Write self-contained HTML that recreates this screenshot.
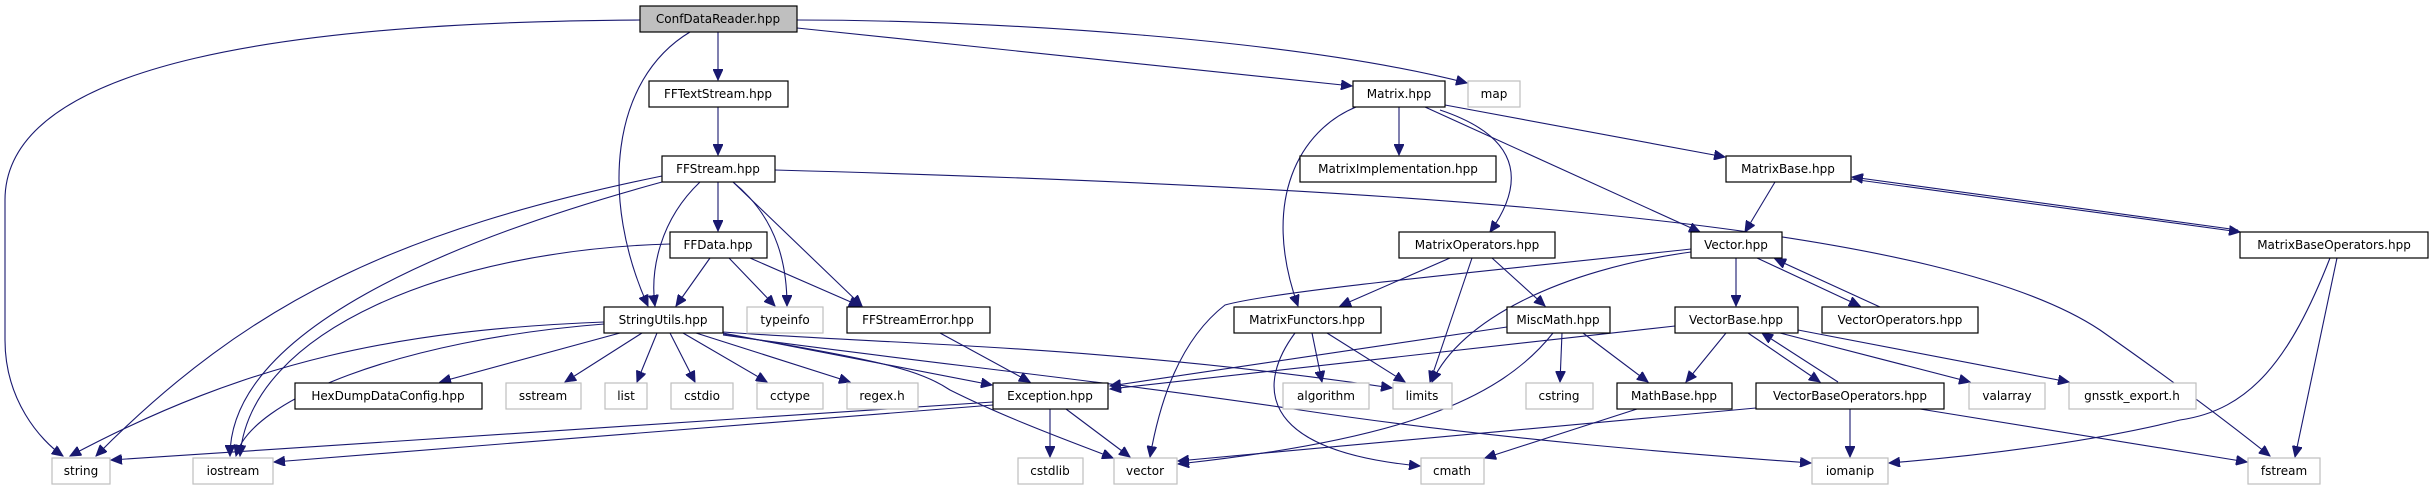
<!DOCTYPE html>
<html><head><meta charset="utf-8"><style>
html,body{margin:0;padding:0;background:#fff;}
svg{display:block;}
text{font-family:"DejaVu Sans","Liberation Sans",sans-serif;font-size:12px;fill:#000;text-anchor:middle;}
.n{fill:#fff;stroke:#000;stroke-width:1.2;}
.g{fill:#fff;stroke:#bfbfbf;stroke-width:1.2;}
.e{fill:none;stroke:#191970;stroke-width:1.1;}
</style></head><body>
<svg width="2433" height="485" viewBox="0 0 2433 485" xmlns="http://www.w3.org/2000/svg">
<defs>
<marker id="a" markerUnits="userSpaceOnUse" markerWidth="12" markerHeight="10" refX="11" refY="5" orient="auto">
<path d="M0,0 L11,5 L0,10 z" fill="#191970" stroke="#191970"/>
</marker>
</defs>
<g marker-end="url(#a)">
<!-- ConfDataReader -->
<path class="e" d="M640,20 C300,22 5,60 5,200 L5,340 C5,400 40,440 63,456"/>
<path class="e" d="M690,32 C610,80 600,200 648,306"/>
<path class="e" d="M718,32 L718,80"/>
<path class="e" d="M797,28 L1352,86"/>
<path class="e" d="M797,20 C1000,20 1300,40 1467,83"/>
<!-- FFTextStream -->
<path class="e" d="M718,107 L718,155"/>
<!-- FFStream -->
<path class="e" d="M662,176 C400,230 250,300 96,456"/>
<path class="e" d="M662,182 C450,240 230,330 230,456"/>
<path class="e" d="M700,182 C660,220 650,270 655,306"/>
<path class="e" d="M718,182 L718,231"/>
<path class="e" d="M733,182 C780,220 787,270 787,306"/>
<path class="e" d="M733,182 L862,306"/>
<path class="e" d="M775,170 C1500,190 1950,230 2100,330 C2200,400 2250,440 2270,456"/>
<!-- FFData -->
<path class="e" d="M670,244 C450,250 250,330 240,456"/>
<path class="e" d="M710,258 L676,306"/>
<path class="e" d="M729,258 L775,306"/>
<path class="e" d="M750,258 L860,306"/>
<!-- StringUtils -->
<path class="e" d="M604,322 C400,330 250,360 70,456"/>
<path class="e" d="M604,324 C400,340 250,400 236,456"/>
<path class="e" d="M620,333 L440,382"/>
<path class="e" d="M642,333 L565,382"/>
<path class="e" d="M657,333 L637,382"/>
<path class="e" d="M670,333 L695,382"/>
<path class="e" d="M683,333 L767,382"/>
<path class="e" d="M696,333 L850,382"/>
<path class="e" d="M723,333 L992,385"/>
<path class="e" d="M723,332 C900,345 1100,345 1392,388"/>
<path class="e" d="M723,334 C880,360 920,370 950,390 C1010,420 1080,445 1113,458"/>
<path class="e" d="M723,335 C900,360 1100,380 1300,410 C1500,440 1700,455 1811,463"/>
<!-- Exception -->
<path class="e" d="M993,402 L111,460"/>
<path class="e" d="M993,405 L274,462"/>
<path class="e" d="M1050,409 L1050,457"/>
<path class="e" d="M1066,409 L1130,457"/>
<!-- FFStreamError -->
<path class="e" d="M940,333 L1030,382"/>
<!-- Matrix -->
<path class="e" d="M1356,107 C1300,130 1260,200 1298,306"/>
<path class="e" d="M1399,107 L1399,155"/>
<path class="e" d="M1440,110 C1530,140 1520,190 1490,232"/>
<path class="e" d="M1425,107 L1700,232"/>
<path class="e" d="M1445,105 L1725,157"/>
<!-- MatrixBase -->
<path class="e" d="M1775,182 L1745,232"/>
<path class="e" d="M1851,179 L2240,232"/>
<path class="e" d="M2238,230 L1852,177"/>
<!-- MatrixOperators -->
<path class="e" d="M1450,258 L1340,306"/>
<path class="e" d="M1472,258 L1430,382"/>
<path class="e" d="M1492,258 L1545,306"/>
<!-- Vector -->
<path class="e" d="M1691,249 C1500,270 1280,290 1225,305 C1180,340 1160,400 1150,457"/>
<path class="e" d="M1691,252 C1560,270 1460,320 1432,382"/>
<path class="e" d="M1736,258 L1736,306"/>
<path class="e" d="M1757,258 L1860,306"/>
<path class="e" d="M1880,307 L1775,259"/>
<!-- Exception in from MiscMath & VectorBase -->
<path class="e" d="M1507,327 L1110,386"/>
<path class="e" d="M1675,326 L1110,389"/>
<!-- MatrixFunctors -->
<path class="e" d="M1312,333 L1322,382"/>
<path class="e" d="M1327,333 L1405,382"/>
<path class="e" d="M1295,333 C1260,380 1250,450 1420,466"/>
<!-- MiscMath -->
<path class="e" d="M1562,333 L1560,382"/>
<path class="e" d="M1583,333 L1648,382"/>
<path class="e" d="M1553,333 C1500,400 1400,440 1178,464"/>
<!-- MathBase -->
<path class="e" d="M1637,409 L1485,458"/>
<!-- VectorBase -->
<path class="e" d="M1726,333 L1686,382"/>
<path class="e" d="M1748,333 L1820,382"/>
<path class="e" d="M1838,382 L1762,333"/>
<path class="e" d="M1780,333 L1970,382"/>
<path class="e" d="M1798,330 L2069,382"/>
<!-- VectorBaseOperators -->
<path class="e" d="M1756,408 L1178,461"/>
<path class="e" d="M1850,409 L1850,457"/>
<path class="e" d="M1920,409 L2247,462"/>
<!-- MatrixBaseOperators -->
<path class="e" d="M2330,258 C2290,360 2250,410 2180,420 C2100,440 1990,455 1889,463"/>
<path class="e" d="M2337,258 L2295,457"/>
</g>

<!-- nodes -->
<rect x="640" y="6" width="157" height="26" fill="#bfbfbf" stroke="#000" stroke-width="1.2"/><text x="718" y="23">ConfDataReader.hpp</text>
<rect class="n" x="649" y="81" width="139" height="26"/><text x="718" y="98">FFTextStream.hpp</text>
<rect class="n" x="1353" y="81" width="92" height="26"/><text x="1399" y="98">Matrix.hpp</text>
<rect class="g" x="1468" y="81" width="52" height="26"/><text x="1494" y="98">map</text>
<rect class="n" x="662" y="156" width="113" height="26"/><text x="718" y="173">FFStream.hpp</text>
<rect class="n" x="1300" y="156" width="196" height="26"/><text x="1398" y="173">MatrixImplementation.hpp</text>
<rect class="n" x="1726" y="156" width="125" height="26"/><text x="1788" y="173">MatrixBase.hpp</text>
<rect class="n" x="670" y="232" width="97" height="26"/><text x="718" y="249">FFData.hpp</text>
<rect class="n" x="1399" y="232" width="156" height="26"/><text x="1477" y="249">MatrixOperators.hpp</text>
<rect class="n" x="1691" y="232" width="91" height="26"/><text x="1736" y="249">Vector.hpp</text>
<rect class="n" x="2240" y="232" width="188" height="26"/><text x="2334" y="249">MatrixBaseOperators.hpp</text>
<rect class="n" x="604" y="307" width="119" height="26"/><text x="663" y="324">StringUtils.hpp</text>
<rect class="g" x="747" y="307" width="76" height="26"/><text x="785" y="324">typeinfo</text>
<rect class="n" x="847" y="307" width="143" height="26"/><text x="918" y="324">FFStreamError.hpp</text>
<rect class="n" x="1234" y="307" width="147" height="26"/><text x="1307" y="324">MatrixFunctors.hpp</text>
<rect class="n" x="1507" y="307" width="103" height="26"/><text x="1558" y="324">MiscMath.hpp</text>
<rect class="n" x="1675" y="307" width="123" height="26"/><text x="1736" y="324">VectorBase.hpp</text>
<rect class="n" x="1822" y="307" width="156" height="26"/><text x="1900" y="324">VectorOperators.hpp</text>
<rect class="n" x="295" y="383" width="187" height="26"/><text x="388" y="400">HexDumpDataConfig.hpp</text>
<rect class="g" x="506" y="383" width="75" height="26"/><text x="543" y="400">sstream</text>
<rect class="g" x="605" y="383" width="42" height="26"/><text x="626" y="400">list</text>
<rect class="g" x="671" y="383" width="62" height="26"/><text x="702" y="400">cstdio</text>
<rect class="g" x="757" y="383" width="66" height="26"/><text x="790" y="400">cctype</text>
<rect class="g" x="847" y="383" width="71" height="26"/><text x="882" y="400">regex.h</text>
<rect class="n" x="993" y="383" width="115" height="26"/><text x="1050" y="400">Exception.hpp</text>
<rect class="g" x="1283" y="383" width="86" height="26"/><text x="1326" y="400">algorithm</text>
<rect class="g" x="1393" y="383" width="59" height="26"/><text x="1422" y="400">limits</text>
<rect class="g" x="1526" y="383" width="67" height="26"/><text x="1559" y="400">cstring</text>
<rect class="n" x="1617" y="383" width="115" height="26"/><text x="1674" y="400">MathBase.hpp</text>
<rect class="n" x="1756" y="383" width="188" height="26"/><text x="1850" y="400">VectorBaseOperators.hpp</text>
<rect class="g" x="1969" y="383" width="76" height="26"/><text x="2007" y="400">valarray</text>
<rect class="g" x="2069" y="383" width="127" height="26"/><text x="2132" y="400">gnsstk_export.h</text>
<rect class="g" x="52" y="458" width="58" height="26"/><text x="81" y="475">string</text>
<rect class="g" x="193" y="458" width="80" height="26"/><text x="233" y="475">iostream</text>
<rect class="g" x="1018" y="458" width="65" height="26"/><text x="1050" y="475">cstdlib</text>
<rect class="g" x="1114" y="458" width="63" height="26"/><text x="1145" y="475">vector</text>
<rect class="g" x="1421" y="458" width="63" height="26"/><text x="1452" y="475">cmath</text>
<rect class="g" x="1812" y="458" width="76" height="26"/><text x="1850" y="475">iomanip</text>
<rect class="g" x="2248" y="458" width="72" height="26"/><text x="2284" y="475">fstream</text>
</svg>
</body></html>
